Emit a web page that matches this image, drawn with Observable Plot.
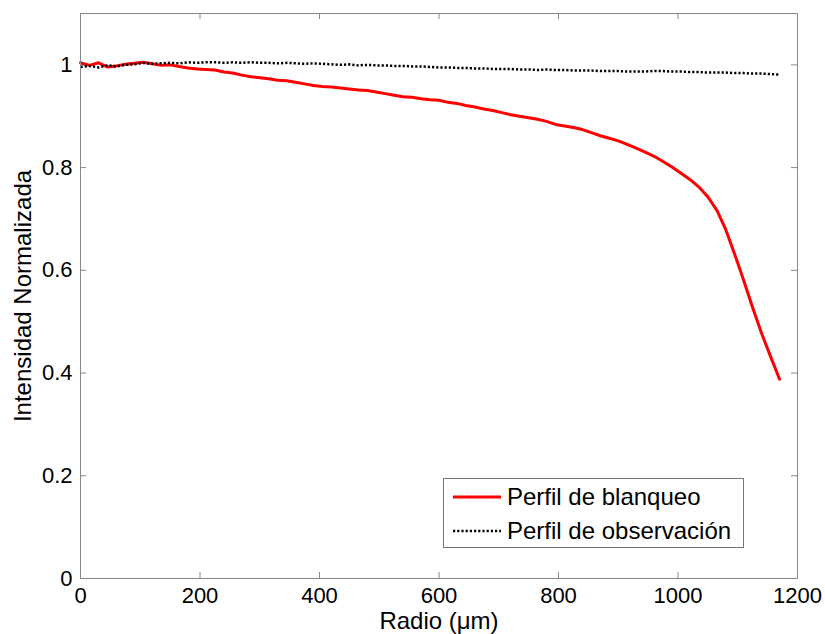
<!DOCTYPE html>
<html><head><meta charset="utf-8">
<script src="https://cdn.jsdelivr.net/npm/d3@7"></script>
<script src="https://cdn.jsdelivr.net/npm/@observablehq/plot@0.6"></script>
<style>
body{margin:0;background:#fff;}
#wrap{position:relative;width:825px;height:634px;font-family:"Liberation Sans",Arial,Helvetica,sans-serif;}
#legend{position:absolute;left:443px;top:478px;width:301px;height:70px;border:1px solid #777;background:#fff;box-sizing:border-box;}
.item{position:absolute;left:9px;height:30px;display:flex;align-items:center;font-size:24px;color:#000;white-space:nowrap;}
.item svg{margin-right:6px;}
</style></head><body><div id="wrap"></div>
<script>
const xTicks = [0, 200, 400, 600, 800, 1000, 1200];
const yTicks = [0, 0.2, 0.4, 0.6, 0.8, 1];
const xLabel = "Radio (μm)";
const yLabel = "Intensidad Normalizada";
const seriesNames = ["Perfil de blanqueo", "Perfil de observación"];

const radio = [0,15,30,45,60,75,90,105,120,135,150,165,180,195,210,225,240,255,270,285,300,315,330,345,360,375,390,405,420,435,450,465,480,495,510,525,540,555,570,585,600,615,630,645,660,675,690,705,720,735,750,765,780,795,810,825,840,855,870,885,900,915,930,945,960,975,990,1005,1020,1035,1050,1065,1080,1095,1110,1125,1140,1155,1170];

const intensidadBlanqueo = [1.004,0.999,1.004,0.996,0.998,1.001,1.003,1.005,1.002,0.999,1.000,0.997,0.994,0.992,0.991,0.990,0.986,0.984,0.980,0.977,0.975,0.973,0.970,0.969,0.966,0.963,0.960,0.958,0.957,0.955,0.953,0.951,0.950,0.947,0.944,0.941,0.938,0.937,0.934,0.932,0.931,0.927,0.925,0.921,0.918,0.914,0.911,0.907,0.903,0.900,0.897,0.894,0.890,0.884,0.881,0.878,0.874,0.868,0.862,0.857,0.852,0.845,0.838,0.830,0.822,0.812,0.801,0.789,0.777,0.762,0.743,0.717,0.679,0.631,0.580,0.527,0.477,0.432,0.388];

const intensidadObservacion = [0.996,0.998,0.995,0.999,0.997,1.000,1.001,1.004,1.002,1.003,1.004,1.003,1.005,1.004,1.005,1.005,1.004,1.005,1.004,1.005,1.004,1.004,1.003,1.004,1.003,1.002,1.003,1.002,1.001,1.000,1.001,0.999,1.000,0.999,0.999,0.998,0.998,0.997,0.997,0.996,0.995,0.995,0.994,0.994,0.993,0.993,0.992,0.992,0.992,0.991,0.991,0.990,0.991,0.990,0.990,0.989,0.989,0.989,0.988,0.988,0.988,0.987,0.987,0.987,0.988,0.988,0.987,0.987,0.986,0.986,0.985,0.985,0.985,0.984,0.984,0.983,0.983,0.982,0.981];

const seriesColors = ["#ff0000", "#000000"];
const dotted = "2.2,2";

const W = 825, H = 634, mL = 80, mR = 28, mT = 13, mB = 56;
const innerW = W - mL - mR, innerH = H - mT - mB;
const tickLen = 6;
const font = '"Liberation Sans", Arial, Helvetica, sans-serif';

const dataB = radio.map((r, i) => ({r, v: intensidadBlanqueo[i]}));
const dataO = radio.map((r, i) => ({r, v: intensidadObservacion[i]}));

const chart = Plot.plot({
  width: W, height: H,
  marginLeft: mL, marginRight: mR, marginTop: mT, marginBottom: mB,
  style: {fontFamily: font, fontSize: "22px", color: "#000", background: "#fff"},
  x: {domain: [0, 1200]},
  y: {domain: [0, 1.1]},
  marks: [
    Plot.tickX(xTicks, {x: d => d, insetTop: innerH - tickLen, stroke: "#888"}),
    Plot.tickX(xTicks, {x: d => d, insetBottom: innerH - tickLen, stroke: "#888"}),
    Plot.tickY(yTicks, {y: d => d, insetRight: innerW - tickLen, stroke: "#888"}),
    Plot.tickY(yTicks, {y: d => d, insetLeft: innerW - tickLen, stroke: "#888"}),
    Plot.line(dataB, {x: "r", y: "v", stroke: seriesColors[0], strokeWidth: 3}),
    Plot.line(dataO, {x: "r", y: "v", stroke: seriesColors[1], strokeWidth: 2.5, strokeDasharray: dotted, strokeLinecap: "butt"}),
    Plot.frame({stroke: "#888"}),
    Plot.axisX(xTicks, {tickSize: 0, tickPadding: 9, fontSize: 22, tickFormat: d => String(d), label: null}),
    Plot.axisY(yTicks, {tickSize: 0, tickPadding: 8, fontSize: 22, tickFormat: d => String(d), label: null}),
    Plot.text([xLabel], {frameAnchor: "bottom", dy: 43, lineAnchor: "middle", textAnchor: "middle", fontSize: 24, fill: "#000"}),
    Plot.text([yLabel], {frameAnchor: "left", dx: -57, rotate: -90, lineAnchor: "middle", textAnchor: "middle", fontSize: 24, fill: "#000"})
  ]
});

const wrap = document.getElementById("wrap");
wrap.appendChild(chart);

const legend = document.createElement("div");
legend.id = "legend";
seriesNames.forEach((name, i) => {
  const item = document.createElement("div");
  item.className = "item";
  item.style.top = (i === 0 ? 3 : 37) + "px";
  const dash = i === 0 ? "" : ` stroke-dasharray="${dotted}"`;
  const sw = i === 0 ? 3 : 2.5;
  item.innerHTML = `<svg width="48" height="10"><line x1="0" y1="5" x2="48" y2="5" stroke="${seriesColors[i]}" stroke-width="${sw}"${dash}/></svg><span>${name}</span>`;
  legend.appendChild(item);
});
wrap.appendChild(legend);
</script>
</body></html>
